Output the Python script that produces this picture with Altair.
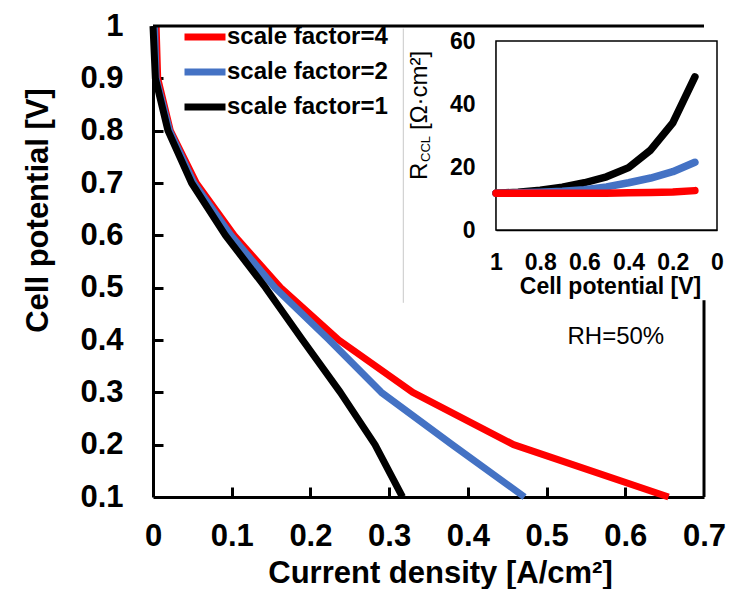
import altair as alt
import pandas as pd

# ---------------- data ----------------
series_names = ["scale factor=4", "scale factor=2", "scale factor=1"]
series_colors = ["#FF0000", "#4472C4", "#000000"]

potential = [1.0, 0.9, 0.8, 0.7, 0.6, 0.5, 0.4, 0.3, 0.2, 0.1]
current_sf4 = [0.004, 0.006, 0.022, 0.055, 0.103, 0.162, 0.236, 0.330, 0.458, 0.655]
current_sf2 = [0.002, 0.004, 0.021, 0.052, 0.099, 0.155, 0.224, 0.290, 0.380, 0.472]
current_sf1 = [0.000, 0.003, 0.019, 0.049, 0.092, 0.143, 0.190, 0.238, 0.282, 0.317]

r_ccl_sf4 = [11.7, 11.7, 11.7, 11.7, 11.7, 11.7, 11.8, 11.9, 12.1, 12.5]
r_ccl_sf2 = [11.7, 11.8, 12.0, 12.3, 12.8, 13.7, 15.0, 16.5, 18.5, 21.5]
r_ccl_sf1 = [11.7, 12.0, 12.6, 13.6, 15.0, 16.9, 19.8, 25.4, 34.0, 48.6]

x_tick_values = [0.0, 0.1, 0.2, 0.3, 0.4, 0.5, 0.6, 0.7]
y_tick_values = [0.1, 0.2, 0.3, 0.4, 0.5, 0.6, 0.7, 0.8, 0.9, 1.0]
inset_x_tick_values = [1.0, 0.8, 0.6, 0.4, 0.2, 0.0]
inset_y_tick_values = [0, 20, 40, 60]

rows = []
for name, cur, rc in zip(series_names,
                         [current_sf4, current_sf2, current_sf1],
                         [r_ccl_sf4, r_ccl_sf2, r_ccl_sf1]):
    for i, v in enumerate(potential):
        rows.append({"series": name, "idx": i, "potential": v,
                     "current": cur[i], "r_ccl": rc[i]})
df = pd.DataFrame(rows)
one = pd.DataFrame({"k": [0]})

# ---------------- layout constants ----------------
FONT = "Liberation Sans"
W, H = 551, 471
INSET_TOP, INSET_BOTTOM = 15, 204
INSET_LEFT, INSET_RIGHT = 343, 564

main_x_scale = alt.Scale(domain=[0, 0.7], nice=False, zero=False)
main_y_scale = alt.Scale(domain=[0.1, 1.0], nice=False, zero=False)
ix_scale = alt.Scale(domain=[0, 1], range=[INSET_RIGHT, INSET_LEFT], nice=False, zero=False)
iy_scale = alt.Scale(domain=[0, 60], range=[INSET_BOTTOM, INSET_TOP], nice=False, zero=False)

legend = alt.Legend(title=None, orient="none", legendX=38, legendY=-3,
                    symbolType="M-2,0H2", symbolSize=420, symbolStrokeWidth=7,
                    labelFont=FONT, labelFontSize=24, labelFontWeight="bold",
                    labelColor="black", labelOffset=8, rowPadding=7, padding=0,
                    labelLimit=400, symbolOpacity=1)
color_enc = alt.Color("series:N",
                      scale=alt.Scale(domain=series_names, range=series_colors),
                      legend=legend)

main_x_axis = alt.Axis(orient="bottom", values=x_tick_values, format=".1~f",
                       labelFlush=False, labelOverlap=False, ticks=False, tickSize=0,
                       labelPadding=24, labelFont=FONT, labelFontSize=31,
                       labelFontWeight="bold", labelColor="black",
                       domainColor="black", domainWidth=3, grid=False,
                       title="Current density [A/cm²]", titleFont=FONT,
                       titleFontSize=31, titleFontWeight="bold", titleColor="black",
                       titleX=287, titleY=85, titleBaseline="alphabetic",
                       titleAlign="center")
main_y_axis = alt.Axis(orient="left", values=y_tick_values, format=".1~f",
                       labelFlush=False, labelOverlap=False, ticks=False, tickSize=0,
                       labelPadding=30, labelFont=FONT, labelFontSize=31,
                       labelFontWeight="bold", labelColor="black",
                       domainColor="black", domainWidth=3, grid=False,
                       title="Cell potential [V]", titleFont=FONT,
                       titleFontSize=31, titleFontWeight="bold", titleColor="black",
                       titleX=-106, titleY=184, titleAngle=270,
                       titleBaseline="alphabetic", titleAlign="center")


def main_line(name):
    return alt.Chart(df).transform_filter(alt.datum.series == name).mark_line(
        strokeWidth=7, strokeJoin="round", strokeCap="butt"
    ).encode(
        x=alt.X("current:Q", scale=main_x_scale, axis=main_x_axis),
        y=alt.Y("potential:Q", scale=main_y_scale, axis=main_y_axis),
        color=color_enc,
        order=alt.Order("idx:Q"),
    )


def mx(v):
    return alt.XDatum(v, type="quantitative", scale=main_x_scale, axis=main_x_axis)


def my(v):
    return alt.YDatum(v, type="quantitative", scale=main_y_scale, axis=main_y_axis)


frame_top = alt.Chart(one).mark_rule(color="black", strokeWidth=3).encode(
    x=mx(0.0), x2=alt.datum(0.7), y=my(1.0))
frame_right = alt.Chart(one).mark_rule(color="black", strokeWidth=3).encode(
    x=mx(0.7), y=my(0.1), y2=alt.datum(0.476))
inset_edge = alt.Chart(one).mark_rule(color="#c8c8c8", strokeWidth=1).encode(
    x=mx(0.318), y=my(0.471), y2=alt.datum(0.995))
rh_text = alt.Chart(one).mark_text(
    text="RH=50%", font=FONT, fontSize=24, align="center",
    baseline="alphabetic", color="black"
).encode(x=mx(0.588), y=my(0.392))

main_group = alt.layer(
    main_line(series_names[0]), main_line(series_names[1]), main_line(series_names[2]),
    frame_top, frame_right, inset_edge, rh_text)

main_ticks = alt.Chart(df).mark_point(opacity=0).encode(
    x=alt.X("current:Q", scale=main_x_scale,
            axis=alt.Axis(orient="top", offset=-H, values=x_tick_values[1:-1],
                          labels=False, domain=False, ticks=True, tickSize=10,
                          tickWidth=3, tickColor="black", grid=False, title=None)),
    y=alt.Y("potential:Q", scale=main_y_scale,
            axis=alt.Axis(orient="right", offset=-W, values=y_tick_values[1:-1],
                          labels=False, domain=False, ticks=True, tickSize=10,
                          tickWidth=3, tickColor="black", grid=False, title=None)),
)

# ---------------- inset ----------------
inset_x_axis = alt.Axis(orient="bottom", offset=-(H - INSET_BOTTOM),
                        values=inset_x_tick_values,
                        format=".1~f", labelFlush=False, labelOverlap=False,
                        ticks=False, tickSize=0, labelPadding=21, labelFont=FONT,
                        labelFontSize=23, labelFontWeight="bold", labelColor="black",
                        domainColor="black", domainWidth=1.5, grid=False,
                        title="Cell potential [V]", titleFont=FONT, titleFontSize=23,
                        titleFontWeight="bold", titleColor="black", titleX=457,
                        titleY=63, titleBaseline="alphabetic", titleAlign="center")
inset_y_axis = alt.Axis(orient="left", offset=-INSET_LEFT, values=inset_y_tick_values,
                        labelFlush=False, labelOverlap=False, ticks=False, tickSize=0,
                        labelPadding=21, labelFont=FONT, labelFontSize=23,
                        labelFontWeight="bold", labelColor="black",
                        domainColor="black", domainWidth=1.5, grid=False, title=None)

inset_box = alt.Chart(one).mark_rect(fill="white", stroke="black", strokeWidth=1.5).encode(
    x=alt.XDatum(1.0, type="quantitative", scale=ix_scale, axis=inset_x_axis),
    x2=alt.datum(0.0),
    y=alt.YDatum(0, type="quantitative", scale=iy_scale, axis=inset_y_axis),
    y2=alt.datum(60))


def inset_line(name):
    return alt.Chart(df).transform_filter(alt.datum.series == name).mark_line(
        strokeWidth=7.5, strokeJoin="round", strokeCap="round"
    ).encode(
        x=alt.X("potential:Q", scale=ix_scale, axis=inset_x_axis),
        y=alt.Y("r_ccl:Q", scale=iy_scale, axis=inset_y_axis),
        color=color_enc,
        order=alt.Order("idx:Q"),
    )


inset_group = alt.layer(inset_box, inset_line(series_names[2]),
                        inset_line(series_names[1]), inset_line(series_names[0]))

inset_ticks = alt.Chart(df).mark_point(opacity=0).encode(
    x=alt.X("potential:Q", scale=ix_scale,
            axis=alt.Axis(orient="top", offset=-INSET_BOTTOM,
                          values=inset_x_tick_values[1:-1],
                          labels=False, domain=False, ticks=True, tickSize=7,
                          tickWidth=2, tickColor="black", grid=False, title=None)),
    y=alt.Y("r_ccl:Q", scale=iy_scale,
            axis=alt.Axis(orient="right", offset=INSET_LEFT - W,
                          values=inset_y_tick_values[1:-1],
                          labels=False, domain=False, ticks=True, tickSize=7,
                          tickWidth=2, tickColor="black", grid=False, title=None)),
)

title_r = alt.Chart(one).mark_text(text="R", font=FONT, fontSize=24, angle=270,
                                   align="left", baseline="alphabetic", color="black"
                                   ).encode(x=alt.value(274), y=alt.value(154))
title_ccl = alt.Chart(one).mark_text(text="CCL", font=FONT, fontSize=13, angle=270,
                                     align="left", baseline="alphabetic", color="black"
                                     ).encode(x=alt.value(277), y=alt.value(136))
title_unit = alt.Chart(one).mark_text(text="[Ω·cm²]", font=FONT, fontSize=24, angle=270,
                                      align="left", baseline="alphabetic", color="black"
                                      ).encode(x=alt.value(274), y=alt.value(104))
inset_title = alt.layer(title_r, title_ccl, title_unit)

chart = alt.layer(main_group, main_ticks, inset_group, inset_ticks, inset_title).resolve_scale(
    x="independent", y="independent"
).properties(
    width=W, height=H,
    autosize=alt.AutoSizeParams(type="none"),
    padding={"left": 145, "top": 18, "right": 25, "bottom": 92},
    background="white",
).configure_view(stroke=None)

chart.save("out.html", embed_options={"renderer": "svg", "actions": False})
